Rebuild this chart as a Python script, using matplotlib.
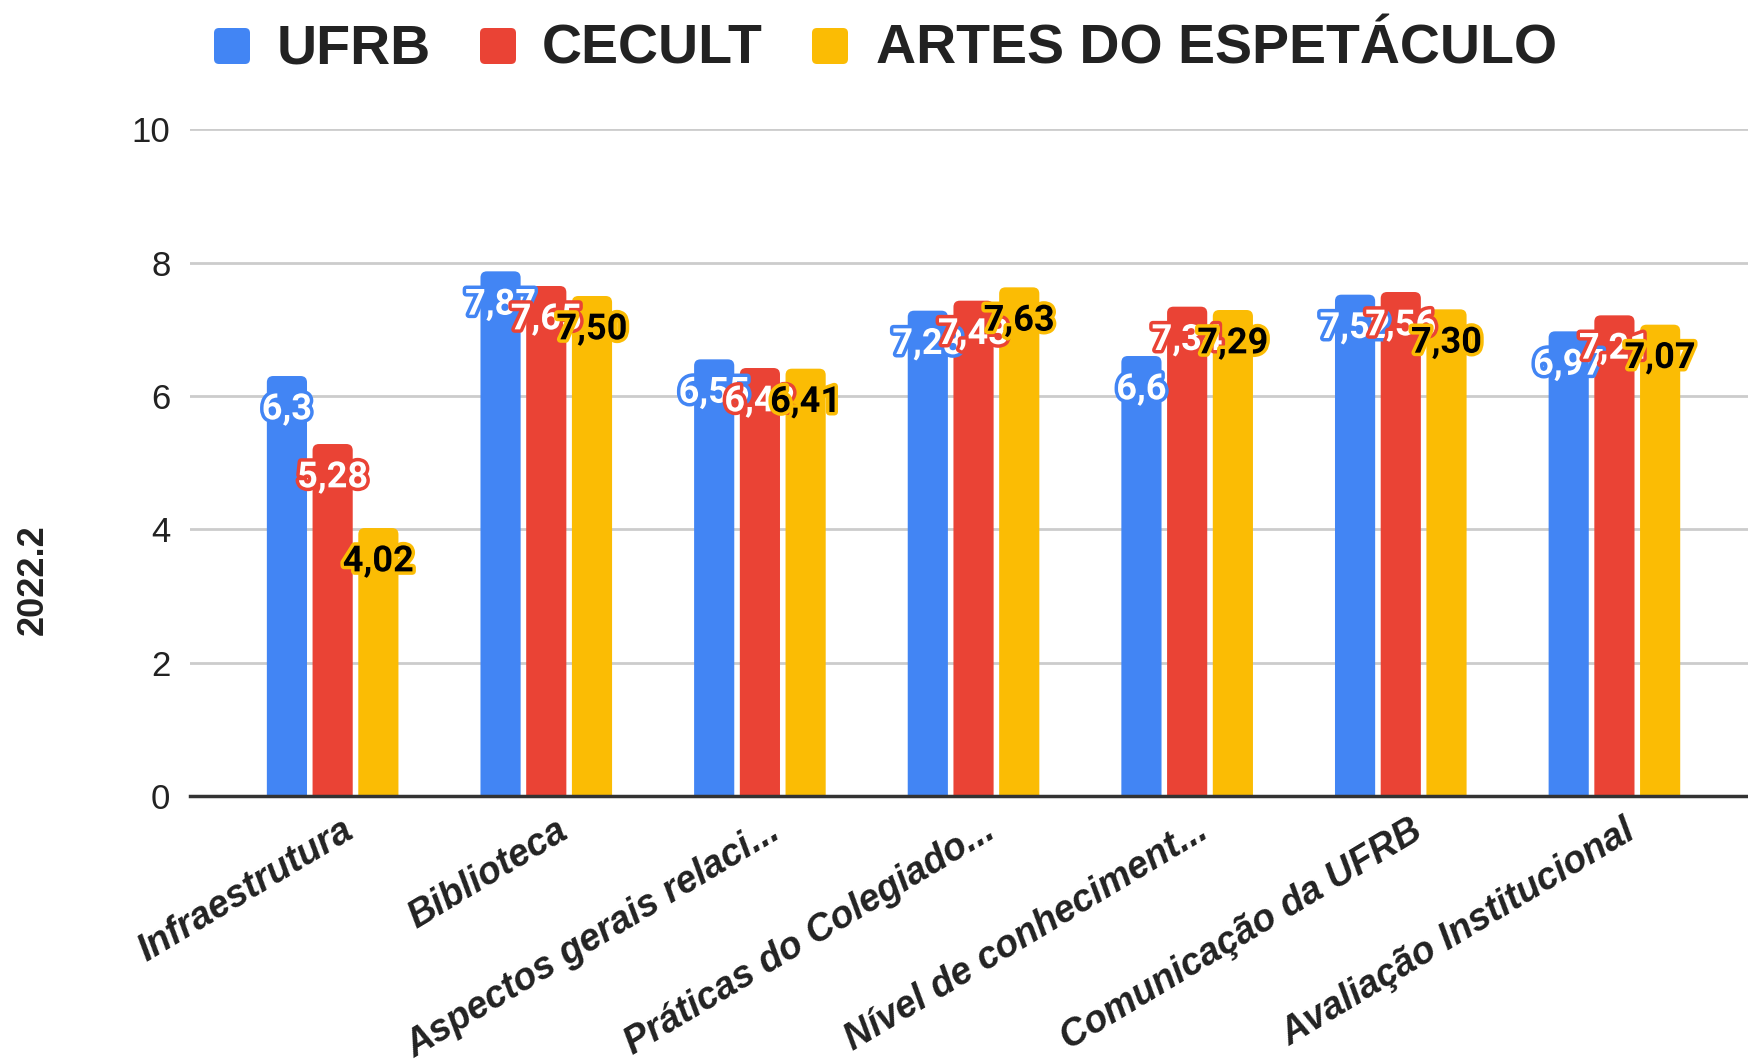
import numpy as np
import matplotlib
matplotlib.use("Agg")
import matplotlib.pyplot as plt
import matplotlib.patheffects as pe
from matplotlib.patches import FancyBboxPatch
from matplotlib.transforms import ScaledTranslation

# Data
categories = ["Infraestrutura", "Biblioteca", "Aspectos gerais relaci...",
              "Práticas do Colegiado...", "Nível de conheciment...",
              "Comunicação da UFRB", "Avaliação Institucional"]
series_names = ["UFRB", "CECULT", "ARTES DO ESPETÁCULO"]
ufrb = [6.3, 7.87, 6.55, 7.28, 6.6, 7.52, 6.97]
cecult = [5.28, 7.65, 6.42, 7.43, 7.34, 7.56, 7.21]
artes = [4.02, 7.50, 6.41, 7.63, 7.29, 7.30, 7.07]
y_label = "2022.2"

colors = ["#4285F4", "#EA4335", "#FBBC04"]
text_colors = ["white", "white", "black"]
label_fmts = ["{:g}", "{:.2f}", "{:.2f}"]

fig = plt.figure(figsize=(17.49, 10.6), dpi=100)
ax = fig.add_axes([0.1086, 0.249, 0.8914, 0.629])

x = np.arange(len(categories))
width = 0.188
step = 0.214

for i, (vals, col) in enumerate(zip([ufrb, cecult, artes], colors)):
    pos = x + (i - 1) * step
    bars = ax.bar(pos, vals, width, color=col, zorder=2)
    # swap plain rectangles for ones with rounded tops
    for b in bars:
        b.set_visible(False)
        p = FancyBboxPatch((b.get_x(), -0.3), b.get_width(), b.get_height() + 0.3,
                           boxstyle="round,pad=0,rounding_size=0.03",
                           mutation_aspect=3.2, facecolor=col, edgecolor="none",
                           zorder=2)
        ax.add_patch(p)
    for xp, v in zip(pos, vals):
        t = ax.text(xp, v - 0.5, label_fmts[i].format(v).replace(".", ","),
                    ha="center", va="center", fontsize=26, fontweight="bold",
                    family=["Roboto", "DejaVu Sans"], color=text_colors[i],
                    zorder=5 + i)
        t.set_path_effects([pe.Stroke(linewidth=5, foreground=col), pe.Normal()])

ax.set_xlim(-0.668, 6.63)
ax.set_ylim(0, 10)
ax.set_yticks(np.arange(0, 11, 2))
ax.grid(axis="y", color="#cccccc", linewidth=2, zorder=0)
ax.set_axisbelow(True)
ax.axhline(0, color="#333333", linewidth=2.5, zorder=3, clip_on=False)
for s in ax.spines.values():
    s.set_visible(False)

ax.tick_params(axis="y", length=0, pad=14, labelsize=25, labelcolor="#222222")
for lab in ax.get_yticklabels():
    lab.set_family(["Liberation Sans", "DejaVu Sans"])

ax.set_xticks(x)
ax.set_xticklabels(categories, rotation=31, ha="right", va="center",
                   rotation_mode="anchor", fontsize=27, fontweight="bold",
                   fontstyle="italic", family=["Liberation Sans", "DejaVu Sans"],
                   color="#222222")
ax.tick_params(axis="x", length=0, pad=23)
for lab in ax.get_xticklabels():
    lab.set_transform(lab.get_transform() + ScaledTranslation(0.18, 0, fig.dpi_scale_trans))

fig.text(0.019, 0.453, y_label, rotation=90, ha="center", va="center",
         fontsize=26, fontweight="bold", family=["Liberation Sans", "DejaVu Sans"],
         color="#222222")

# legend drawn by hand
sq_x = [2.14, 4.80, 8.12]
tx_x = [2.77, 5.42, 8.76]
for name, col, sx, tx in zip(series_names, colors, sq_x, tx_x):
    fig.add_artist(FancyBboxPatch((sx, 9.96), 0.36, 0.36,
                                  boxstyle="round,pad=0,rounding_size=0.05",
                                  transform=fig.dpi_scale_trans,
                                  facecolor=col, edgecolor="none"))
    fig.text(tx, 9.965, name, transform=fig.dpi_scale_trans, ha="left",
             va="baseline", fontsize=40, fontweight="bold",
             family=["Liberation Sans", "DejaVu Sans"], color="#222222")

fig.savefig("out.png", dpi=100)
